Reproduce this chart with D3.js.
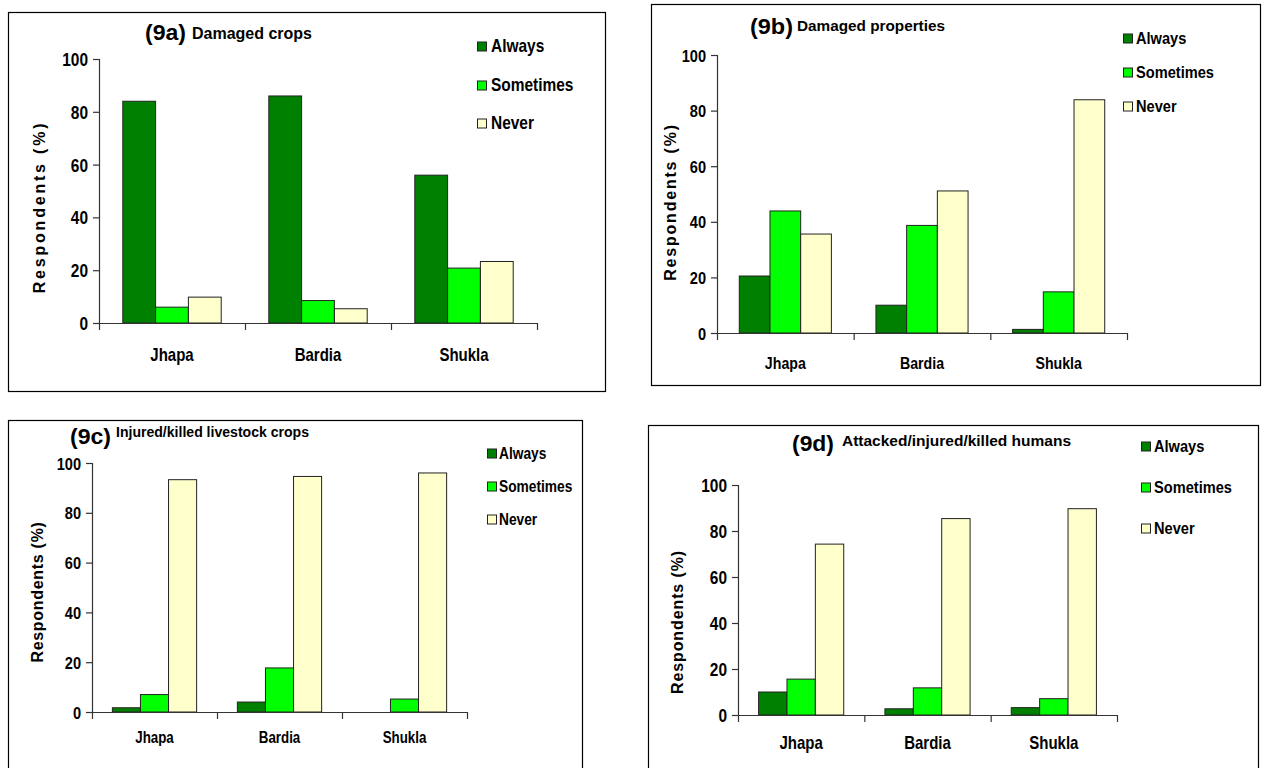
<!DOCTYPE html>
<html>
<head>
<meta charset="utf-8">
<script src="https://cdn.jsdelivr.net/npm/d3@7/dist/d3.min.js"></script>
<style>
  html, body { margin: 0; padding: 0; background: #fff; }
  svg { display: block; }
  text { font-family: "Liberation Sans", Arial, sans-serif; font-weight: bold; fill: #000; }
</style>
</head>
<body>
<svg id="chart" width="1262" height="768"></svg>
<script>
// ---------------- DATA ----------------
const categories = ["Jhapa", "Bardia", "Shukla"];
const seriesNames = ["Always", "Sometimes", "Never"];
const yTicks = [0, 20, 40, 60, 80, 100];

const panelLabels = ["(9a)", "(9b)", "(9c)", "(9d)"];
const panelTitles = ["Damaged crops", "Damaged properties", "Injured/killed livestock crops", "Attacked/injured/killed humans"];
const yAxisTitle = "Respondents (%)";

const a_always    = [84.0, 86.0, 56.0];
const a_sometimes = [6.0, 8.5, 20.8];
const a_never     = [9.8, 5.4, 23.3];

const b_always    = [20.5, 10.0, 1.3];
const b_sometimes = [43.9, 38.7, 14.8];
const b_never     = [35.6, 51.1, 83.9];

const c_always    = [1.7, 4.0, 0];
const c_sometimes = [7.0, 17.7, 5.2];
const c_never     = [93.3, 94.6, 96.0];

const d_always    = [10.0, 2.7, 3.2];
const d_sometimes = [15.6, 11.8, 7.1];
const d_never     = [74.3, 85.4, 89.7];

const seriesColors = ["#008000", "#00FF00", "#FFFFCC"];

// ---------------- LAYOUT ----------------
const panels = [
  { values: [a_always, a_sometimes, a_never],
    box: [8, 12, 605, 391], ax: 99, xEnd: 537, y0: 323, y100: 59,
    tickFont: 18, catFont: 18, catY: 361,
    legX: 477, legTextX: 491, legY: [46, 85, 123], legFont: 18, legSq: 9,
    yt: { x: 39, y: 207, font: 16, ls: 2.8 },
    lab: { x: 145, y: 40, w: 41, font: 22 }, sub: { x: 192, y: 39, w: 120, font: 16 } },
  { values: [b_always, b_sometimes, b_never],
    box: [651, 4, 1260, 385], ax: 717, xEnd: 1127, y0: 333, y100: 55,
    tickFont: 17, catFont: 17, catY: 369,
    legX: 1123, legTextX: 1136, legY: [38, 72, 106], legFont: 17, legSq: 9,
    yt: { x: 670, y: 202, font: 16, ls: 1.8 },
    lab: { x: 750, y: 34, w: 43, font: 22 }, sub: { x: 797, y: 31, w: 148, font: 15 } },
  { values: [c_always, c_sometimes, c_never],
    box: [8, 420, 582, 775], ax: 92, xEnd: 467, y0: 712, y100: 463,
    tickFont: 17, catFont: 16, catY: 743,
    legX: 487, legTextX: 499, legY: [453, 486, 519], legFont: 16, legSq: 9,
    yt: { x: 37, y: 592, font: 16, ls: 0.7 },
    lab: { x: 70, y: 444, w: 41, font: 22 }, sub: { x: 116, y: 437, w: 193, font: 14 } },
  { values: [d_always, d_sometimes, d_never],
    box: [648, 425, 1258, 775], ax: 738, xEnd: 1117, y0: 715, y100: 485,
    tickFont: 18, catFont: 18, catY: 749,
    legX: 1141, legTextX: 1154, legY: [446, 487, 528], legFont: 17, legSq: 9,
    yt: { x: 677, y: 622, font: 16, ls: 0.9 },
    lab: { x: 792, y: 451, w: 42, font: 22 }, sub: { x: 842, y: 446, w: 229, font: 15 } }
];

const SX = 0.86; // horizontal condensing of the text glyphs

function squeeze(sel, sx) {
  sel.each(function () {
    const t = d3.select(this);
    const x = +t.attr("x") || 0, y = +t.attr("y") || 0;
    t.attr("transform", `translate(${x},${y}) scale(${sx},1) translate(${-x},${-y})`);
  });
}

const svg = d3.select("#chart");

panels.forEach((p, pi) => {
  const g = svg.append("g");

  // panel frame
  g.append("rect")
    .attr("x", p.box[0] + 0.5).attr("y", p.box[1] + 0.5)
    .attr("width", p.box[2] - p.box[0]).attr("height", p.box[3] - p.box[1])
    .attr("fill", "#fff").attr("stroke", "#000").attr("stroke-width", 1.2);

  const y = d3.scaleLinear().domain([0, 100]).range([p.y0, p.y100]);
  const x = d3.scaleBand().domain(categories).range([p.ax, p.xEnd]).paddingInner(0).paddingOuter(0);
  const bw = x.bandwidth();
  const xs = d3.scaleBand().domain(seriesNames).range([bw * 0.163, bw * 0.837]).padding(0);

  // bars
  seriesNames.forEach((s, si) => {
    g.append("g").selectAll("rect")
      .data(categories.map((c, ci) => ({ c, v: p.values[si][ci] })).filter(d => d.v > 0))
      .join("rect")
      .attr("x", d => x(d.c) + xs(s))
      .attr("y", d => y(d.v))
      .attr("width", xs.bandwidth())
      .attr("height", d => y(0) - y(d.v))
      .attr("fill", seriesColors[si])
      .attr("stroke", "#222").attr("stroke-width", 1);
  });

  // y axis
  const yAxis = g.append("g").attr("transform", `translate(${p.ax},0)`)
    .call(d3.axisLeft(y).tickValues(yTicks).tickSize(6).tickPadding(5).tickFormat(d3.format("d")));
  yAxis.select(".domain").attr("stroke", "#333").attr("stroke-width", 1.2);
  yAxis.selectAll(".tick line").attr("stroke", "#333").attr("stroke-width", 1.2);
  yAxis.selectAll("text").attr("font-size", p.tickFont).attr("font-family", "Liberation Sans, Arial, sans-serif")
    .attr("font-weight", "bold").attr("fill", "#000").attr("dy", "0.36em");
  squeeze(yAxis.selectAll("text"), SX);

  // x axis line with separator ticks at band boundaries
  const xb = d3.scaleLinear().domain([0, categories.length]).range([p.ax, p.xEnd]);
  const xAxis = g.append("g").attr("transform", `translate(0,${p.y0})`)
    .call(d3.axisBottom(xb).tickValues(d3.range(categories.length + 1)).tickSize(7).tickSizeOuter(0).tickFormat(""));
  xAxis.select(".domain").attr("stroke", "#333").attr("stroke-width", 1.2);
  xAxis.selectAll(".tick line").attr("stroke", "#333").attr("stroke-width", 1.2);

  // category labels
  const xLab = g.append("g").attr("transform", `translate(0,${p.catY})`)
    .call(d3.axisBottom(x).tickSize(0).tickPadding(0));
  xLab.select(".domain").remove();
  xLab.selectAll("text").attr("dy", 0).attr("y", 0).attr("font-size", p.catFont)
    .attr("font-family", "Liberation Sans, Arial, sans-serif").attr("font-weight", "bold").attr("fill", "#000");
  squeeze(xLab.selectAll("text"), SX * 0.97);

  // y axis title
  g.append("text")
    .attr("transform", `translate(${p.yt.x},${p.yt.y}) rotate(-90)`)
    .attr("text-anchor", "middle").attr("dy", "0.35em")
    .attr("font-size", p.yt.font).attr("letter-spacing", p.yt.ls)
    .text(yAxisTitle);

  // titles
  g.append("text").attr("x", p.lab.x).attr("y", p.lab.y)
    .attr("font-size", p.lab.font).attr("textLength", p.lab.w).attr("lengthAdjust", "spacingAndGlyphs")
    .text(panelLabels[pi]);
  g.append("text").attr("x", p.sub.x).attr("y", p.sub.y)
    .attr("font-size", p.sub.font).attr("textLength", p.sub.w).attr("lengthAdjust", "spacingAndGlyphs")
    .text(panelTitles[pi]);

  // legend
  const leg = g.append("g");
  seriesNames.forEach((s, si) => {
    leg.append("rect")
      .attr("x", p.legX + 0.5).attr("y", p.legY[si] - p.legSq / 2 + 0.5)
      .attr("width", p.legSq).attr("height", p.legSq)
      .attr("fill", seriesColors[si]).attr("stroke", "#222").attr("stroke-width", 1);
    const t = leg.append("text")
      .attr("x", p.legTextX).attr("y", p.legY[si]).attr("dy", "0.36em")
      .attr("font-size", p.legFont)
      .text(s);
    squeeze(t, SX);
  });
});
</script>
</body>
</html>
